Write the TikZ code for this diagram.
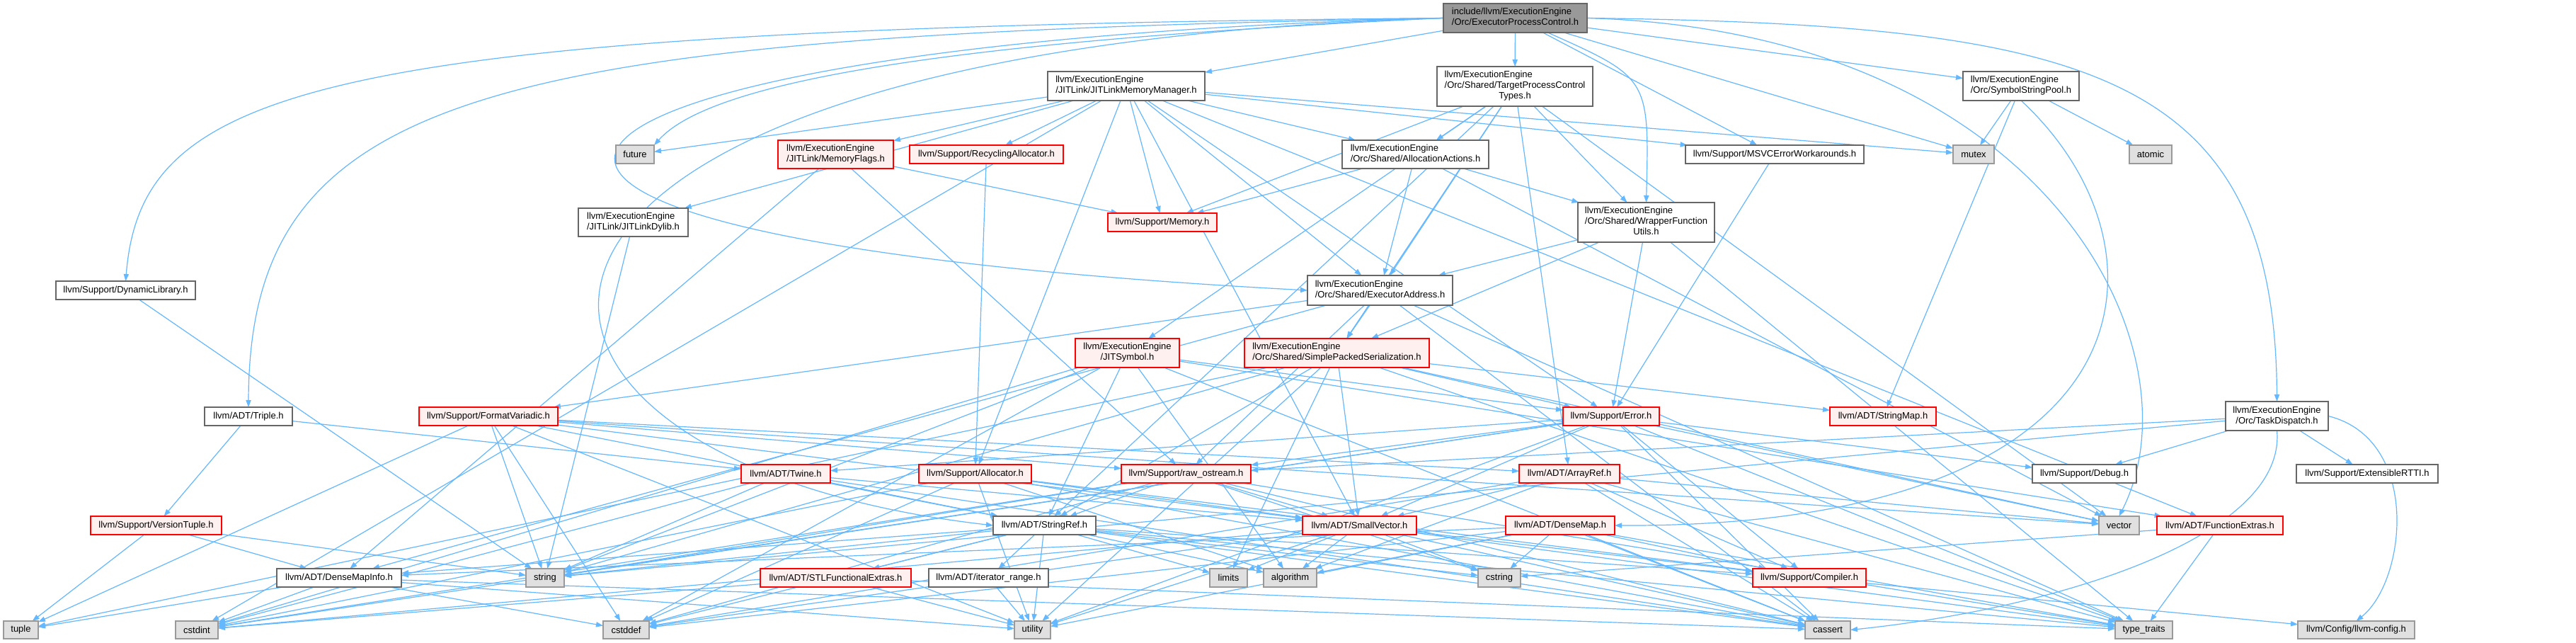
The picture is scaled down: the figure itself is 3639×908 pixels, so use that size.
\documentclass[tikz,border=0pt]{standalone}
\usepackage{fontspec}
\setmainfont{Liberation Sans}
\usetikzlibrary{arrows.meta}
\definecolor{edgeblue}{HTML}{63B8FF}
\definecolor{redfill}{HTML}{FFF0F0}
\definecolor{grayfill}{HTML}{E0E0E0}
\definecolor{grayline}{HTML}{999999}
\definecolor{darkline}{HTML}{666666}
\pgfdeclarelayer{edgelayer}
\pgfsetlayers{edgelayer,main}
\newcommand\twoL[2]{\begin{tabular}{@{}l@{}}#1\\\multicolumn{1}{@{}c@{}}{#2}\end{tabular}}
\newcommand\threeL[3]{\begin{tabular}{@{}l@{}}#1\\#2\\\multicolumn{1}{@{}c@{}}{#3}\end{tabular}}
\newcommand\dxnode[7]{%
  \pgfmathsetmacro\dxcx{(#3+#5)/2}%
  \pgfmathsetmacro\dxcy{(#4+#6)/2}%
  \pgfmathsetmacro\dxw{(#5-#3)/2}%
  \pgfmathsetmacro\dxh{(#6-#4)/2}%
  \node[#2,minimum width=\dxw pt,minimum height=\dxh pt] (#1) at (\dxcx,\dxcy) {#7};}
\newcommand\dxedges[2]{\foreach \dxt in {#2}{\draw[dxedge] (#1) -- (\dxt);}}
\begin{document}
\begin{tikzpicture}[x=0.5pt,y=-0.5pt,
  dxbase/.style={rectangle, inner sep=0pt, outer sep=0pt, line width=0.8pt, font=\fontsize{6.5}{7.5}\selectfont},
  dxwhite/.style={dxbase, draw=darkline, fill=white},
  dxred/.style={dxbase, draw=red, fill=redfill},
  dxgray/.style={dxbase, draw=grayline, fill=grayfill},
  dxroot/.style={dxbase, draw=darkline, fill=grayline},
  dxedge/.style={draw=edgeblue, line width=0.6pt, -{Triangle[length=5pt,width=3.6pt]}}]
\useasboundingbox (0,0) rectangle (3639,908);
% rank 0
\dxnode{root}{dxroot}{2039}{5}{2242}{46}{\twoL{include/llvm/ExecutionEngine}{/Orc/ExecutorProcessControl.h}}
% rank 1
\dxnode{jlmm}{dxwhite}{1480}{101}{1702}{142}{\twoL{llvm/ExecutionEngine}{/JITLink/JITLinkMemoryManager.h}}
\dxnode{tpc}{dxwhite}{2030}{94}{2250}{150}{\threeL{llvm/ExecutionEngine}{/Orc/Shared/TargetProcessControl}{Types.h}}
\dxnode{ssp}{dxwhite}{2773}{101}{2937}{142}{\twoL{llvm/ExecutionEngine}{/Orc/SymbolStringPool.h}}
% rank 2
\dxnode{future}{dxgray}{870}{205}{924}{231}{future}
\dxnode{mf}{dxred}{1099}{198}{1262}{238}{\twoL{llvm/ExecutionEngine}{/JITLink/MemoryFlags.h}}
\dxnode{ra}{dxred}{1285}{205}{1502}{231}{llvm/Support/RecyclingAllocator.h}
\dxnode{aa}{dxwhite}{1896}{198}{2103}{238}{\twoL{llvm/ExecutionEngine}{/Orc/Shared/AllocationActions.h}}
\dxnode{msvc}{dxwhite}{2381}{205}{2633}{231}{llvm/Support/MSVCErrorWorkarounds.h}
\dxnode{mutex}{dxgray}{2759}{205}{2817}{231}{mutex}
\dxnode{atomic}{dxgray}{3008}{205}{3068}{231}{atomic}
% rank 3
\dxnode{jld}{dxwhite}{817}{294}{972}{334}{\twoL{llvm/ExecutionEngine}{/JITLink/JITLinkDylib.h}}
\dxnode{memory}{dxred}{1565}{301}{1719}{327}{llvm/Support/Memory.h}
\dxnode{wfu}{dxwhite}{2229}{286}{2422}{342}{\threeL{llvm/ExecutionEngine}{/Orc/Shared/WrapperFunction}{Utils.h}}
% rank 4
\dxnode{dl}{dxwhite}{79}{397}{276}{423}{llvm/Support/DynamicLibrary.h}
\dxnode{ea}{dxwhite}{1847}{389}{2052}{431}{\twoL{llvm/ExecutionEngine}{/Orc/Shared/ExecutorAddress.h}}
% rank 5
\dxnode{js}{dxred}{1519}{478}{1666}{519}{\twoL{llvm/ExecutionEngine}{/JITSymbol.h}}
\dxnode{sps}{dxred}{1758}{478}{2019}{519}{\twoL{llvm/ExecutionEngine}{/Orc/Shared/SimplePackedSerialization.h}}
% rank 6
\dxnode{triple}{dxwhite}{289}{575}{413}{601}{llvm/ADT/Triple.h}
\dxnode{fv}{dxred}{592}{575}{788}{601}{llvm/Support/FormatVariadic.h}
\dxnode{error}{dxred}{2208}{575}{2344}{601}{llvm/Support/Error.h}
\dxnode{strmap}{dxred}{2585}{575}{2735}{601}{llvm/ADT/StringMap.h}
\dxnode{td}{dxwhite}{3144}{567}{3289}{608}{\twoL{llvm/ExecutionEngine}{/Orc/TaskDispatch.h}}
% rank 7
\dxnode{twine}{dxred}{1047}{656}{1173}{682}{llvm/ADT/Twine.h}
\dxnode{alloc}{dxred}{1298}{656}{1457}{682}{llvm/Support/Allocator.h}
\dxnode{ros}{dxred}{1584}{656}{1767}{682}{llvm/Support/raw\_ostream.h}
\dxnode{arrayref}{dxred}{2146}{656}{2288}{682}{llvm/ADT/ArrayRef.h}
\dxnode{debug}{dxwhite}{2871}{656}{3018}{682}{llvm/Support/Debug.h}
\dxnode{ertti}{dxwhite}{3244}{656}{3444}{682}{llvm/Support/ExtensibleRTTI.h}
% rank 8
\dxnode{vt}{dxred}{128}{729}{313}{755}{llvm/Support/VersionTuple.h}
\dxnode{strref}{dxwhite}{1403}{729}{1548}{755}{llvm/ADT/StringRef.h}
\dxnode{smallvec}{dxred}{1840}{729}{2001}{755}{llvm/ADT/SmallVector.h}
\dxnode{densemap}{dxred}{2127}{729}{2281}{755}{llvm/ADT/DenseMap.h}
\dxnode{vector}{dxgray}{2965}{729}{3022}{755}{vector}
\dxnode{fext}{dxred}{3047}{729}{3225}{755}{llvm/ADT/FunctionExtras.h}
% rank 9
\dxnode{dmi}{dxwhite}{391}{803}{567}{829}{llvm/ADT/DenseMapInfo.h}
\dxnode{string}{dxgray}{743}{803}{797}{829}{string}
\dxnode{stlfe}{dxred}{1074}{803}{1287}{829}{llvm/ADT/STLFunctionalExtras.h}
\dxnode{itrange}{dxwhite}{1312}{803}{1481}{829}{llvm/ADT/iterator\_range.h}
\dxnode{limits}{dxgray}{1709}{803}{1762}{829}{limits}
\dxnode{algorithm}{dxgray}{1785}{803}{1860}{829}{algorithm}
\dxnode{cstring}{dxgray}{2088}{803}{2148}{829}{cstring}
\dxnode{compiler}{dxred}{2476}{803}{2636}{829}{llvm/Support/Compiler.h}
% rank 10
\dxnode{tuple}{dxgray}{5}{877}{54}{902}{tuple}
\dxnode{cstdint}{dxgray}{248}{877}{308}{902}{cstdint}
\dxnode{cstddef}{dxgray}{852}{877}{917}{902}{cstddef}
\dxnode{utility}{dxgray}{1433}{877}{1484}{902}{utility}
\dxnode{cassert}{dxgray}{2550}{877}{2614}{902}{cassert}
\dxnode{typetraits}{dxgray}{2988}{877}{3069}{902}{type\_traits}
\dxnode{llvmcfg}{dxgray}{3246}{877}{3411}{902}{llvm/Config/llvm-config.h}

\begin{pgfonlayer}{edgelayer}
\fill[white] (0,0) rectangle (3639,908);
% root
\draw[dxedge] (root.west) .. controls (450,40) and (200,120) .. (dl.north);
\draw[dxedge] (root.west) .. controls (700,50) and (352,120) .. (triple.north);
\draw[dxedge] (root.west) .. controls (550,70) and (600,650) .. (strref.west);
\draw[dxedge] (root.west) .. controls (1300,60) and (1000,120) .. (future.north east);
\draw[dxedge] (root.west) .. controls (700,60) and (350,330) .. (ea.west);
\draw[dxedge] (root.east) .. controls (2950,35) and (3214,100) .. (td.north);
\draw[dxedge] (root.east) .. controls (2900,45) and (3110,500) .. (vector.north);
\draw[dxedge] (root) .. controls (2330,110) .. (wfu.north);
\dxedges{root}{jlmm,tpc,msvc,mutex,ssp}
% rank 1
\dxedges{jlmm}{fext,smallvec,jld,mf,aa,ea,alloc,error,msvc,memory,ra,cstdint,future,mutex}
\dxedges{tpc}{js,sps,ea,aa,wfu,memory,arrayref,strref,vector}
\dxedges{ssp}{mutex,atomic,strmap}
\draw[dxedge] (ssp.south) .. controls (3080,350) and (3050,745) .. (densemap.east);
% rank 2
\dxedges{mf}{memory,ros,dmi}
\dxedges{aa}{ea,wfu,memory,vector}
\dxedges{msvc}{error}
\dxedges{ra}{alloc}
% rank 3
\dxedges{wfu}{ea,sps,error,typetraits}
\dxedges{jld}{string}
% rank 4
\dxedges{ea}{dmi,sps,fv,ros,cassert,typetraits}
\dxedges{dl}{string}
% rank 5
\dxedges{js}{fext,strref,error,algorithm,cassert,cstddef,cstdint,string}
\dxedges{sps}{smallvec,strmap,strref,error,limits,string,tuple,typetraits,utility,vector}
% rank 6
\dxedges{triple}{twine,vt}
\dxedges{fv}{arrayref,smallvec,strref,ros,cstddef,string,tuple,utility,vector}
\dxedges{error}{twine,smallvec,compiler,debug,ros,cassert,cstdint,string,typetraits,utility,vector}
\dxedges{td}{debug,ertti,ros,string}
\draw[dxedge] (td.east) .. controls (3420,620) and (3400,820) .. (llvmcfg.north);
\draw[dxedge] (td.south) .. controls (3230,760) and (2900,860) .. (cassert.east);
% rank 7
\dxedges{twine}{smallvec,strref,cassert,cstdint,string}
\dxedges{alloc}{smallvec,compiler,algorithm,cassert,cstddef,cstdint,utility}
\dxedges{ros}{strref,smallvec,cassert,cstddef,cstdint,cstring,string,typetraits}
\dxedges{arrayref}{smallvec,compiler,algorithm,cassert,cstddef,typetraits,vector}
% rank 8
\dxedges{vt}{dmi,string,tuple}
\dxedges{strref}{dmi,stlfe,itrange,compiler,algorithm,cassert,cstddef,cstring,limits,string,typetraits,utility}
\dxedges{smallvec}{compiler,algorithm,cassert,cstddef,cstdint,cstring,limits,typetraits,utility}
\dxedges{densemap}{dmi,compiler,algorithm,cassert,cstddef,cstring,typetraits,utility}
\dxedges{fext}{cstring,typetraits}
% rank 9
\dxedges{dmi}{tuple,cstdint,cstddef,cassert,utility}
\dxedges{stlfe}{cstdint,typetraits,utility}
\dxedges{itrange}{utility}
\dxedges{compiler}{llvmcfg}
\end{pgfonlayer}
\end{tikzpicture}
\end{document}
